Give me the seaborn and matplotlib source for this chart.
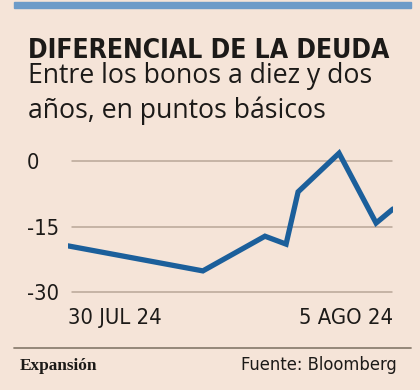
import matplotlib
matplotlib.use("Agg")
import matplotlib.pyplot as plt
import seaborn as sns
import pandas as pd
from matplotlib.patches import Rectangle
from matplotlib.lines import Line2D

# data
x_pos = [0, 41.5, 60.6, 67.1, 70.8, 83.4, 94.8, 100]
spread = [-19.4, -25.1, -17.2, -19.0, -7.1, 1.7, -14.2, -11.0]
y_ticks = [0, -15, -30]
x_ticks = [0, 100]
x_labels = ["30 JUL 24", "5 AGO 24"]

df = pd.DataFrame({"x": x_pos, "spread": spread})

bg = "#f5e4d8"
ink = "#1c1a18"
blue = "#1b5f9b"
sans = ["DejaVu Sans"]

sns.set_style("white")
plt.rcParams["font.family"] = sans
plt.rcParams["font.stretch"] = "condensed"

fig = plt.figure(figsize=(4.2, 3.9), dpi=100, facecolor=bg)
renderer = fig.canvas.get_renderer()


def fit(txt, width_px):
    # shrink/grow a text so it spans the same width as in the original
    w = txt.get_window_extent(renderer).width
    txt.set_fontsize(txt.get_fontsize() * width_px / w)
    return txt


ax = fig.add_axes([68 / 420, 1 - 301.2 / 390, 325 / 420, 153.7 / 390])
ax.set_facecolor(bg)

# header bar
fig.patches.append(Rectangle((14 / 420, 1 - 8 / 390), 397 / 420, 6 / 390,
                             transform=fig.transFigure, color="#6d9bc8", zorder=0))

t = fig.text(28 / 420, 1 - 58 / 390, "DIFERENCIAL DE LA DEUDA", fontsize=27,
             fontweight="heavy", color=ink, va="baseline", ha="left",
             fontstretch="condensed")
fit(t, 364)
s1 = fig.text(28 / 420, 1 - 83 / 390, "Entre los bonos a diez y dos", fontsize=17,
              color=ink, va="baseline", ha="left", family=["Open Sans", "DejaVu Sans"],
              fontstretch="normal")
fit(s1, 344)
fig.text(28 / 420, 1 - 118 / 390, "años, en puntos básicos", fontsize=s1.get_fontsize(),
         color=ink, va="baseline", ha="left", family=["Open Sans", "DejaVu Sans"],
         fontstretch="normal")

for v in y_ticks:
    ax.axhline(v, xmin=4 / 325, xmax=324 / 325, color="#b8a697", lw=1.1, zorder=1)

sns.lineplot(data=df, x="x", y="spread", ax=ax, color=blue, lw=3.8,
             solid_joinstyle="miter", solid_capstyle="round", zorder=3)

# tick label size from the width of the first date label
probe = fig.text(0, 0, x_labels[0], fontsize=17, fontstretch="condensed")
tick_size = fit(probe, 94).get_fontsize()
probe.remove()

ax.set_xlim(0, 100)
ax.set_ylim(-32, 3)
ax.set_yticks(y_ticks)
ax.set_yticklabels([str(v) for v in y_ticks])
ax.set_xticks(x_ticks)
ax.set_xticklabels(x_labels)
ax.tick_params(axis="y", length=0, pad=29.5, labelsize=tick_size, labelcolor=ink)
ax.tick_params(axis="x", length=0, pad=5, labelsize=tick_size, labelcolor=ink)
for lab in ax.get_yticklabels():
    lab.set_ha("left")
xl = ax.get_xticklabels()
xl[0].set_ha("left")
xl[1].set_ha("right")
ax.set_xlabel("")
ax.set_ylabel("")
sns.despine(ax=ax, left=True, bottom=True)

# footer
fig.lines.append(Line2D([14 / 420, 411 / 420], [1 - 348 / 390, 1 - 348 / 390],
                        transform=fig.transFigure, color="#8c8072", lw=1.3))
e = fig.text(20 / 420, 1 - 370 / 390, "Expansión", fontsize=13.5, fontweight="bold",
             color=ink, va="baseline", ha="left", family=["Liberation Serif", "DejaVu Serif"],
             fontstretch="normal")
fit(e, 78)
f = fig.text(397 / 420, 1 - 370 / 390, "Fuente: Bloomberg", fontsize=15.5,
             color=ink, va="baseline", ha="right", fontstretch="condensed")
fit(f, 156)

fig.savefig("out.png", dpi=100, facecolor=bg)
